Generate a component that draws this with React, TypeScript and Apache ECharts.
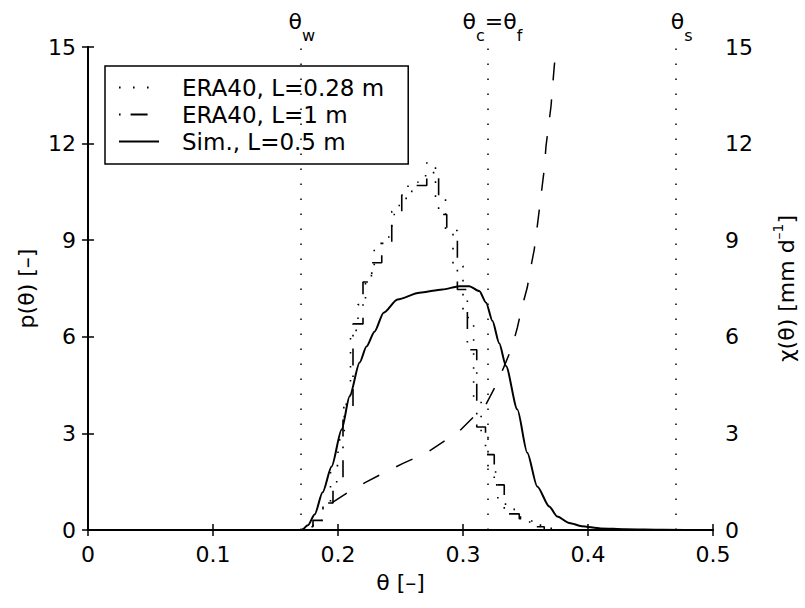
import React, { useEffect, useRef } from "react";
import * as echarts from "echarts";

// ---- data ----
const thetaLines = [0.171, 0.3235, 0.475]; // θw, θc=θf, θs
const thetaLineLabels = ["{t|θ}{s|w}", "{t|θ}{s|c}{t|=θ}{s|f}", "{t|θ}{s|s}"];

const era028Edges = [0.172, 0.18, 0.188, 0.194, 0.2, 0.205, 0.21, 0.216, 0.222, 0.229, 0.236, 0.243, 0.249, 0.256, 0.264, 0.271, 0.278, 0.286, 0.292, 0.3, 0.3085, 0.3145, 0.32, 0.327, 0.334, 0.341, 0.348, 0.356, 0.364, 0.372];
const era028Values = [0.1, 0.3, 0.85, 2.0, 2.8, 3.9, 6.2, 7.0, 7.9, 8.9, 9.1, 9.8, 10.3, 10.8, 11.0, 11.4, 10.3, 9.2, 8.2, 6.6, 4.0, 3.0, 1.8, 1.0, 0.7, 0.4, 0.25, 0.15, 0.05];

const era1Edges = [0.172, 0.18, 0.188, 0.196, 0.204, 0.212, 0.22, 0.227, 0.235, 0.243, 0.251, 0.259, 0.271, 0.2805, 0.287, 0.2955, 0.3035, 0.311, 0.318, 0.325, 0.333, 0.345, 0.355, 0.365];
const era1Values = [0.1, 0.3, 0.84, 1.5, 3.8, 6.4, 7.7, 8.3, 8.9, 9.9, 10.4, 10.7, 11.1, 9.8, 9.3, 7.47, 5.6, 3.2, 2.34, 1.4, 0.5, 0.35, 0.1];

const simTheta = [0.1717, 0.176, 0.1813, 0.1877, 0.1949, 0.2029, 0.2093, 0.2173, 0.2228, 0.2292, 0.2365, 0.2476, 0.2652, 0.2835, 0.2971, 0.305, 0.313, 0.3185, 0.3235, 0.329, 0.3344, 0.3435, 0.3514, 0.3594, 0.369, 0.3754, 0.385, 0.395, 0.41, 0.43, 0.46, 0.5];
const simP = [0, 0.15, 0.48, 1.17, 1.97, 3.12, 4.15, 5.2, 5.7, 6.16, 6.75, 7.16, 7.37, 7.47, 7.57, 7.57, 7.42, 7.06, 6.5, 5.8, 5.09, 3.74, 2.4, 1.35, 0.73, 0.42, 0.22, 0.12, 0.05, 0.02, 0.005, 0];

const chiTheta = [0.195, 0.208, 0.222, 0.237, 0.252, 0.271, 0.285, 0.297, 0.3105, 0.317, 0.3275, 0.333, 0.3395, 0.3435, 0.3474, 0.3514, 0.3544, 0.357, 0.3594, 0.365, 0.3664, 0.3704, 0.373, 0.3743, 0.376];
const chiValues = [0.84, 1.17, 1.48, 1.78, 2.07, 2.4, 2.76, 3.07, 3.59, 3.8, 4.58, 5.09, 5.71, 6.29, 6.95, 7.53, 8.19, 8.71, 9.43, 11.2, 11.92, 13.16, 14.4, 14.92, 15.5];

const legendNames = ["ERA40, L=0.28 m", "ERA40, L=1 m", "Sim., L=0.5 m"];

const xMin = 0, xMax = 0.5, xStep = 0.1;
const yMin = 0, yMax = 15, yStep = 3;

const FONT = "'DejaVu Sans', 'Liberation Sans', Arial, sans-serif";

function histData(edges: number[], values: number[]) {
  const d: number[][] = [[edges[0], 0]];
  values.forEach((v, i) => d.push([edges[i], v]));
  d.push([edges[edges.length - 1], 0]);
  return d;
}

export default function App() {
  const ref = useRef<HTMLDivElement>(null);
  useEffect(() => {
    if (!ref.current) return;
    const chart = echarts.init(ref.current, null, { renderer: "svg" });
    const axisCommon = {
      axisLine: { show: true, lineStyle: { color: "#000", width: 2 } },
      axisTick: { show: true, inside: true, length: 6, lineStyle: { color: "#000", width: 1.5 } },
      splitLine: { show: false },
    };
    const labelStyle = { color: "#000", fontSize: 22, fontFamily: FONT };
    const topRich = {
      t: { fontSize: 22, fontFamily: FONT, color: "#000", lineHeight: 44, verticalAlign: "middle" },
      s: { fontSize: 16, fontFamily: FONT, color: "#000", lineHeight: 16, verticalAlign: "bottom" },
    };
    chart.setOption({
      animation: false,
      backgroundColor: "#fff",
      color: ["#000", "#000", "#000", "#000"],
      grid: { left: 88, right: 91, top: 47, bottom: 78 },
      legend: {
        left: 105,
        top: 66,
        orient: "vertical",
        data: legendNames,
        itemWidth: 40,
        itemHeight: 22,
        itemGap: 4,
        padding: [10, 24, 11, 13],
        borderColor: "#000",
        borderWidth: 1.5,
        borderRadius: 0,
        backgroundColor: "#fff",
        selectedMode: false,
        itemStyle: { opacity: 0 },
        textStyle: { color: "#000", fontSize: 23, lineHeight: 22, fontFamily: FONT, padding: [0, 0, 0, 18] },
      },
      xAxis: [
        {
          type: "value", position: "bottom", min: xMin, max: xMax, interval: xStep,
          ...axisCommon,
          axisLabel: { ...labelStyle, margin: 13, formatter: (v: number) => String(+v.toFixed(1)) },
          name: "θ [–]", nameLocation: "middle", nameGap: 41,
          nameTextStyle: { ...labelStyle },
        },
        {
          type: "value", position: "top", min: xMin, max: xMax, interval: xStep,
          ...axisCommon,
          axisLabel: { show: false },
        },
      ],
      yAxis: [
        {
          type: "value", position: "left", min: yMin, max: yMax, interval: yStep,
          ...axisCommon,
          axisLabel: { ...labelStyle, margin: 12 },
          name: "p(θ) [–]", nameLocation: "middle", nameGap: 44, nameRotate: 90,
          nameTextStyle: { ...labelStyle },
        },
        {
          type: "value", position: "right", min: yMin, max: yMax, interval: yStep,
          ...axisCommon,
          axisLabel: { ...labelStyle, margin: 12 },
          name: "{n|χ(θ) [mm d}{sup|–1}{n|]}", nameLocation: "middle", nameGap: 58, nameRotate: 90,
          nameTextStyle: {
            ...labelStyle,
            rich: {
              n: { fontSize: 22, fontFamily: FONT, color: "#000", lineHeight: 30, verticalAlign: "middle" },
              sup: { fontSize: 14, fontFamily: FONT, color: "#000", lineHeight: 14, verticalAlign: "top" },
            },
          },
        },
      ],
      series: [
        {
          name: legendNames[0],
          type: "line",
          step: "end",
          symbol: "none",
          data: histData(era028Edges, era028Values),
          lineStyle: { color: "#000", width: 1.6, type: [1.6, 12.4] },
          z: 3,
        },
        {
          name: legendNames[1],
          type: "line",
          step: "end",
          symbol: "none",
          data: histData(era1Edges, era1Values),
          lineStyle: { color: "#000", width: 1.6, type: [1.6, 10, 17, 12] },
          z: 3,
        },
        {
          name: legendNames[2],
          type: "line",
          symbol: "none",
          smooth: 0.25,
          smoothMonotone: "x",
          data: simTheta.map((t, i) => [t, simP[i]]),
          lineStyle: { color: "#000", width: 2 },
          z: 4,
          markLine: {
            silent: true,
            symbol: "none",
            lineStyle: { color: "#000", width: 1.5, type: [1.5, 13.5] },
            label: { show: false },
            data: thetaLines.map((x) => ({ xAxis: x })),
          },
        },
        {
          name: "chi",
          type: "line",
          yAxisIndex: 1,
          symbol: "none",
          data: chiTheta.map((t, i) => [t, chiValues[i]]),
          lineStyle: { color: "#000", width: 1.5, type: [18, 19] },
          z: 3,
        },
      ],
    });
    const topY = chart.convertToPixel({ yAxisIndex: 0 }, yMax) as number;
    chart.setOption({
      graphic: thetaLines.map((x, i) => ({
        type: "text",
        x: chart.convertToPixel({ xAxisIndex: 0 }, x) as number,
        y: topY - 4,
        silent: true,
        style: {
          text: thetaLineLabels[i],
          align: "center",
          verticalAlign: "bottom",
          rich: topRich,
          fill: "#000",
        },
      })),
    });
    return () => chart.dispose();
  }, []);
  return <div ref={ref} style={{ position: "fixed", left: 0, top: 0, width: 805, height: 608 }} />;
}
